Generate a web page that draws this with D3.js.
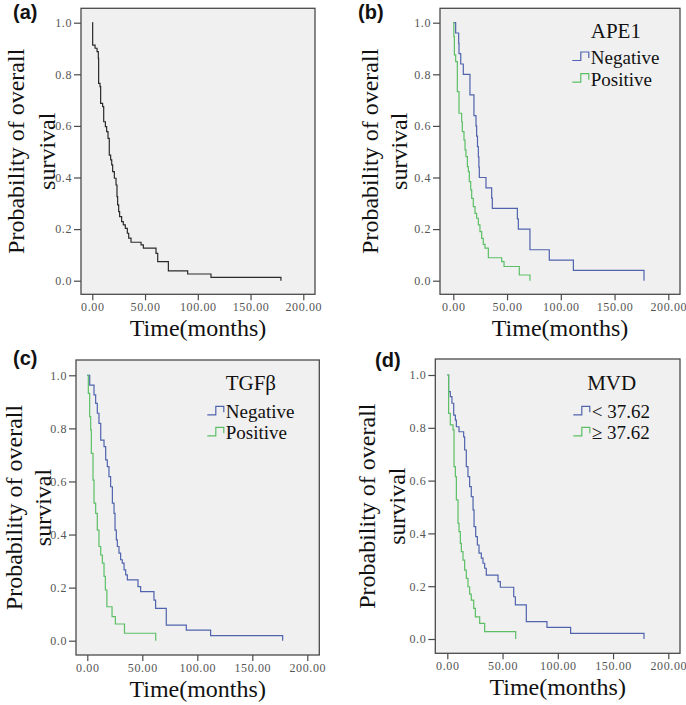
<!DOCTYPE html>
<html><head><meta charset="utf-8">
<script src="https://cdn.jsdelivr.net/npm/d3@7"></script>
<style>body{margin:0;background:#fff}svg{display:block}</style>
</head><body>
<svg id="chart" width="686" height="705"></svg>
<script>
// ---------- DATA ----------
const xTickValues = [0, 50, 100, 150, 200];
const yTickValues = [0, 0.2, 0.4, 0.6, 0.8, 1.0];

// (a) all patients
const allTime = [0, 0.35, 2.6, 4.5, 5.7, 6.0, 7.3, 7.9, 9.8, 10.8, 12.4, 13.6, 14.9, 16.1, 17.4, 18.4, 19.3, 20.9, 22.5, 23.4, 24.0, 25.0, 25.9, 27.8, 29.4, 31.3, 33.2, 34.5, 36.7, 46.2, 48.4, 60.4, 62.0, 72.1, 90.4, 112.5, 178.8];
const allSurv = [1.0, 0.913, 0.901, 0.888, 0.862, 0.765, 0.752, 0.687, 0.675, 0.616, 0.597, 0.578, 0.552, 0.487, 0.468, 0.449, 0.423, 0.397, 0.371, 0.326, 0.294, 0.268, 0.248, 0.229, 0.216, 0.203, 0.184, 0.165, 0.149, 0.139, 0.126, 0.106, 0.074, 0.038, 0.026, 0.013, 0.0];

// (b) APE1
const apeNegTime = [0, 2.2, 5.0, 5.3, 6.9, 9.3, 15.5, 19.2, 21.1, 21.7, 22.5, 23.3, 23.8, 24.2, 30.4, 35.7, 36.3, 59.6, 60.5, 71.3, 89.3, 111.7, 177.4];
const apeNegSurv = [1.0, 0.96, 0.92, 0.88, 0.84, 0.80, 0.72, 0.64, 0.60, 0.56, 0.52, 0.48, 0.44, 0.40, 0.36, 0.32, 0.28, 0.24, 0.20, 0.12, 0.08, 0.04, 0.0];
const apePosTime = [0, 0.5, 1.0, 2.2, 3.75, 5.3, 7.8, 8.4, 9.95, 10.9, 11.8, 13.1, 14.0, 14.9, 16.2, 17.1, 18.6, 20.2, 21.7, 23.3, 24.8, 26.4, 27.9, 29.5, 32.6, 45.0, 47.2, 61.4, 71.3];
const apePosSurv = [1.0, 0.946, 0.875, 0.849, 0.733, 0.649, 0.616, 0.578, 0.545, 0.507, 0.481, 0.442, 0.423, 0.384, 0.352, 0.319, 0.287, 0.261, 0.242, 0.216, 0.190, 0.164, 0.141, 0.126, 0.089, 0.074, 0.055, 0.022, 0.0];

// (c) TGFβ
const tgfNegTime = [0, 2.2, 6.1, 7.6, 9.1, 10.6, 12.2, 15.2, 16.7, 18.2, 19.7, 21.2, 22.8, 24.3, 25.2, 26.4, 27.3, 28.8, 30.3, 31.8, 33.4, 34.9, 36.4, 46.1, 48.5, 60.6, 62.1, 71.8, 90.0, 112.1, 177.6];
const tgfNegSurv = [1.0, 0.963, 0.926, 0.894, 0.857, 0.819, 0.756, 0.731, 0.681, 0.656, 0.618, 0.580, 0.518, 0.480, 0.417, 0.380, 0.355, 0.330, 0.305, 0.292, 0.267, 0.248, 0.229, 0.204, 0.185, 0.153, 0.122, 0.059, 0.040, 0.019, 0.0];
const tgfPosTime = [0, 0.94, 2.15, 3.06, 3.67, 5.2, 6.1, 7.6, 9.1, 10.6, 12.2, 13.7, 15.2, 16.4, 17.8, 22.5, 25.5, 33.8, 62.2];
const tgfPosSurv = [1.0, 0.932, 0.844, 0.794, 0.706, 0.605, 0.518, 0.480, 0.417, 0.355, 0.323, 0.292, 0.242, 0.191, 0.128, 0.091, 0.063, 0.028, 0.0];

// (d) MVD
const mvdLowTime = [0, 1.2, 2.7, 4.2, 5.8, 7.3, 8.2, 10.6, 14.8, 15.7, 17.2, 18.7, 20.2, 21.7, 23.3, 24.2, 25.7, 27.2, 28.7, 30.8, 32.3, 33.8, 35.3, 45.9, 48.0, 60.1, 61.6, 71.5, 90.2, 111.6, 178.0];
const mvdLowSurv = [1.0, 0.937, 0.918, 0.893, 0.848, 0.829, 0.804, 0.785, 0.766, 0.716, 0.653, 0.615, 0.577, 0.539, 0.489, 0.426, 0.388, 0.356, 0.325, 0.306, 0.287, 0.268, 0.242, 0.217, 0.196, 0.160, 0.129, 0.066, 0.044, 0.021, 0.0];
const mvdHighTime = [0, 1.2, 2.7, 5.2, 6.1, 7.3, 8.2, 9.7, 10.6, 11.8, 12.7, 14.2, 15.7, 17.2, 18.7, 20.2, 21.7, 23.9, 25.4, 29.3, 33.8, 61.9];
const mvdHighSurv = [1.0, 0.855, 0.811, 0.792, 0.653, 0.615, 0.527, 0.438, 0.407, 0.362, 0.331, 0.299, 0.261, 0.230, 0.198, 0.170, 0.147, 0.116, 0.084, 0.059, 0.028, 0.0];

const yTitleLines = ["Probability of overall", "survival"];
const xTitle = "Time(months)";

// ---------- STYLE / LAYOUT ----------
const BLUE = "#5063ad", GREEN = "#5cbf66", BLACK = "#2a2a2a";
const SERIF = "'Liberation Serif','Times New Roman',serif";

const panels = [
  {label:"(a)", labelPos:[13,19], frame:{l:81,t:8.3,r:315,b:294.3}, xr:[92.3,303.3], yr:[280.7,22.7], titleX:[24,55],
   series:[{time:allTime, surv:allSurv, color:BLACK}], legend:null},
  {label:"(b)", labelPos:[358,19], frame:{l:440,t:8.3,r:680,b:294.3}, xr:[453.3,668.3], yr:[280.7,22.7], titleX:[378,406.7],
   series:[{time:apeNegTime, surv:apeNegSurv, color:BLUE},{time:apePosTime, surv:apePosSurv, color:GREEN}],
   legend:{title:"APE1", titleBase:38.3, symX:572.3, rows:[64,85.7], labels:["Negative","Positive"]}},
  {label:"(c)", labelPos:[13,365], frame:{l:76,t:360,r:319.3,b:655}, xr:[87.3,307.3], yr:[640.7,375.3], titleX:[22,50.5],
   series:[{time:tgfNegTime, surv:tgfNegSurv, color:BLUE},{time:tgfPosTime, surv:tgfPosSurv, color:GREEN}],
   legend:{title:"TGFβ", titleBase:390, symX:207.3, rows:[418.3,439.3], labels:["Negative","Positive"]}},
  {label:"(d)", labelPos:[375,367], frame:{l:435.3,t:359,r:680,b:653.3}, xr:[447.3,668.3], yr:[639,375], titleX:[375,405],
   series:[{time:mvdLowTime, surv:mvdLowSurv, color:BLUE},{time:mvdHighTime, surv:mvdHighSurv, color:GREEN}],
   legend:{title:"MVD", titleBase:390, symX:573.3, rows:[418.3,439.3], labels:["< 37.62","≥ 37.62"]}}
];

const svg = d3.select("#chart");

panels.forEach(p => {
  const g = svg.append("g");
  const f = p.frame;
  const x = d3.scaleLinear().domain([0,200]).range(p.xr);
  const y = d3.scaleLinear().domain([0,1]).range(p.yr);

  g.append("rect").attr("x", f.l).attr("y", f.t).attr("width", f.r - f.l).attr("height", f.b - f.t)
    .attr("fill", "#f0f0f0").attr("stroke", "#4a4a4a").attr("stroke-width", 1.3);

  const yAxis = g.append("g").attr("transform", `translate(${f.l},0)`)
    .call(d3.axisLeft(y).tickValues(yTickValues).tickFormat(d3.format(".1f")).tickSize(7).tickPadding(2));
  const xAxis = g.append("g").attr("transform", `translate(0,${f.b})`)
    .call(d3.axisBottom(x).tickValues(xTickValues).tickFormat(d3.format(".2f")).tickSize(6).tickPadding(2));
  [yAxis, xAxis].forEach(a => {
    a.select(".domain").remove();
    a.selectAll("line").attr("stroke", "#4a4a4a").attr("stroke-width", 1.2);
    a.selectAll("text").attr("fill", "#555").style("font-family", SERIF).style("font-size", "12px").style("letter-spacing", "0.6px");
  });

  const line = d3.line().x(d => x(d[0])).y(d => y(d[1])).curve(d3.curveStepAfter);
  p.series.forEach(s => {
    const pts = s.time.map((t, i) => [t, s.surv[i]]);
    g.append("path").attr("d", line(pts)).attr("fill", "none").attr("stroke", s.color).attr("stroke-width", 1.2);
  });

  // panel label
  g.append("text").attr("x", p.labelPos[0]).attr("y", p.labelPos[1]).text(p.label)
    .style("font-family", "'Liberation Sans',Arial,sans-serif").style("font-weight", "bold").style("font-size", "20px").attr("fill", "#111");

  // y title
  const cy = (f.t + f.b) / 2;
  yTitleLines.forEach((t, i) => {
    g.append("text").attr("transform", `translate(${p.titleX[i]},${cy}) rotate(-90)`)
      .attr("text-anchor", "middle").text(t)
      .style("font-family", SERIF).style("font-size", "24px").attr("fill", "#111");
  });
  // x title
  g.append("text").attr("x", (f.l + f.r) / 2).attr("y", f.b + 42).attr("text-anchor", "middle").text(xTitle)
    .style("font-family", SERIF).style("font-size", "24px").attr("fill", "#111");

  // legend
  if (p.legend) {
    const L = p.legend;
    let maxW = 0;
    L.rows.forEach((b, i) => {
      const col = p.series[i].color;
      const sx = L.symX;
      g.append("path").attr("d", `M${sx},${b-3.5}H${sx+8.5}V${b-12}H${sx+16.5}V${b-6}`)
        .attr("fill", "none").attr("stroke", col).attr("stroke-width", 1.2);
      const t = g.append("text").attr("x", sx + 18.5).attr("y", b).text(L.labels[i])
        .style("font-family", SERIF).style("font-size", "19px").attr("fill", "#111");
      maxW = Math.max(maxW, t.node().getComputedTextLength());
    });
    g.append("text").attr("x", L.symX + (18.5 + maxW) / 2).attr("y", L.titleBase).attr("text-anchor", "middle").text(L.title)
      .style("font-family", SERIF).style("font-size", "21px").attr("fill", "#111");
  }
});
</script>
</body></html>
